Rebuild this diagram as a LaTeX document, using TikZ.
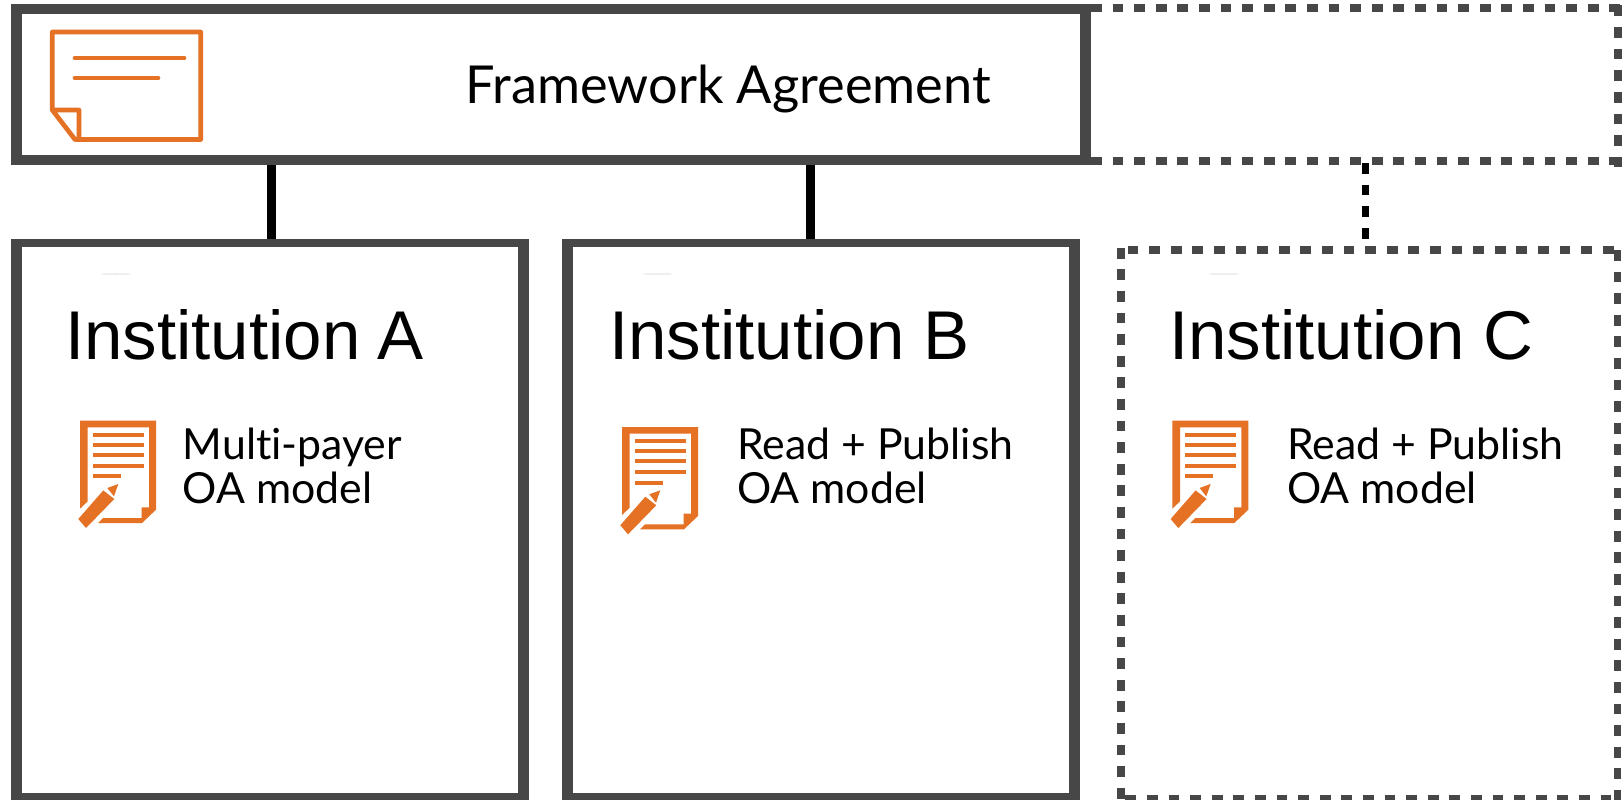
\documentclass[tikz,border=0pt]{standalone}
\usepackage{fontspec}
\setmainfont{Lato}[Ligatures={NoCommon}]
\newfontfamily\arialf{Liberation Sans}
\definecolor{frameg}{HTML}{474747}
\definecolor{iconor}{HTML}{E57125}
\usetikzlibrary{shapes.geometric}
\tikzset{
 x=1pt,y=-1pt,
 outerbox/.style={fill=frameg,draw=none,rectangle,inner sep=0pt,outer sep=0pt,anchor=north west},
 innerbox/.style={fill=white,draw=none,rectangle,inner sep=0pt,outer sep=0pt,anchor=north west},
 ghostbox/.style={draw=none,rectangle,inner sep=0pt,outer sep=0pt,anchor=north west},
 dashh/.style={draw=frameg,line width=8pt,dash pattern=on 10.8pt off 10.8pt},
 dashv/.style={draw=frameg,line width=7.5pt,dash pattern=on 10.8pt off 10.8pt},
 conn/.style={draw=black,line width=9pt},
 dconn/.style={draw=black,line width=7pt,dash pattern=on 10.8pt off 10.8pt},
 inst/.style={font=\arialf\fontsize{69}{69}\selectfont,anchor=base west,inner sep=0pt},
 lab/.style={font=\fontsize{42.8}{43.5}\selectfont,anchor=base west,inner sep=0pt,align=left},
 smudge/.style={fill=gray!35,draw=none,ellipse,inner sep=0pt,minimum width=30pt,minimum height=1pt},
}
\newcommand{\docicon}[2]{%
 \begin{scope}[shift={(#1,#2)}]
  \fill[iconor] (0,0)--(76,0)--(76,89)--(62,102.3)--(18,102.3)--(23,97.3)--(61.7,97.3)--(61.7,86.7)--(69,86.7)--(69,6.7)--(7.7,6.7)--(7.7,80.7)--(0,88)--cycle;
  \foreach \yy in {14,24.3,34.3,45} \fill[iconor] (12.7,\yy-2) rectangle (64,\yy+2);
  \fill[iconor] (12.7,53.7) rectangle (41,57.7);
  \fill[iconor] (-1.7,98.3)--(23.3,69.7)--(34.3,78.3)--(6,107.3)--cycle;
  \fill[iconor] (27.3,67.3)--(38.3,63.3)--(34,75.7)--cycle;
 \end{scope}}
\begin{document}
\begin{tikzpicture}
\useasboundingbox (0,0) rectangle (1623,800);
\clip (0,0) rectangle (1623,800);
\fill[white] (0,0) rectangle (1623,800);
% dashed extension of the framework box
\coordinate (dnw) at (1091,8);
\coordinate (dne) at (1623,8);
\coordinate (dsw) at (1091,161);
\coordinate (dse) at (1623,161);
\coordinate (drt) at (1618,5.5);
\coordinate (drb) at (1618,167);
\draw[dashh] (dnw)--(dne);
\draw[dashh] (dsw)--(dse);
\draw[dashv] (drt)--(drb);
% framework box
\node[outerbox,minimum width=1079.5pt,minimum height=161pt] (fa) at (11,4) {};
\node[innerbox,minimum width=1058pt,minimum height=141pt] (fain) at (22,14.3) {};
\node[font=\fontsize{52.3}{52.3}\selectfont,anchor=base west,inner sep=0pt] (fatxt) at (465,103) {Framework Agreement};
% institution boxes
\node[outerbox,minimum width=518pt,minimum height=600pt] (ia) at (11,239) {};
\node[innerbox,minimum width=496pt,minimum height=546pt] (iain) at (22,247.3) {};
\node[outerbox,minimum width=518pt,minimum height=600pt] (ib) at (562,239) {};
\node[innerbox,minimum width=496.5pt,minimum height=546pt] (ibin) at (572.5,247.3) {};
\node[ghostbox,minimum width=496.5pt,minimum height=551pt] (ic) at (1121,250) {};
\draw[dashh] (1127.6,250)--(ic.north east);
\draw[dashh] (1125.3,799)--(1618,799);
\draw[dashv] (1121,247.7)--(1121,800);
\draw[dashv] (1617.5,250)--(1617.5,800);
% connectors
\coordinate (xa) at (271,200);
\coordinate (xb) at (810,200);
\coordinate (xc) at (1365,163);
\coordinate (xd) at (1365,239);
\draw[conn] (fa.south -| xa)--(ia.north -| xa);
\draw[conn] (fa.south -| xb)--(ib.north -| xb);
\draw[dconn] (xc)--(xd);
% note icon
\begin{scope}[iconor,line width=4.7pt,line cap=round,line join=round]
 \draw (75,139.5)--(200.7,139.5)--(200.7,32)--(52.3,32)--(52.3,110)--(75,139.5)--(79,139.5)--(79,110)--(52.3,110);
 \draw (75,58)--(184,58);
 \draw (75,78)--(158,78);
\end{scope}
% faint marks
\node[smudge] (sa) at (116,274) {};
\node[smudge] (sb) at (658,274) {};
\node[smudge] (sc) at (1224,274) {};
% texts
\node[inst] (ta1) at (65,359) {Institution\kern-2pt\ A};
\node[inst] (tb1) at (609,359) {Institution B};
\node[inst] (tc1) at (1169,359) {Institution C};
\node[lab] (la) at (182.5,503) {Mult\kern0pt i-payer\\OA model};
\node[lab] (lb) at (737,503) {Read + Publish\\OA model};
\node[lab] (lc) at (1287,503) {Read + Publish\\OA model};
\docicon{80}{420.7}
\docicon{622}{427}
\docicon{1172.3}{420.7}
\end{tikzpicture}
\end{document}
